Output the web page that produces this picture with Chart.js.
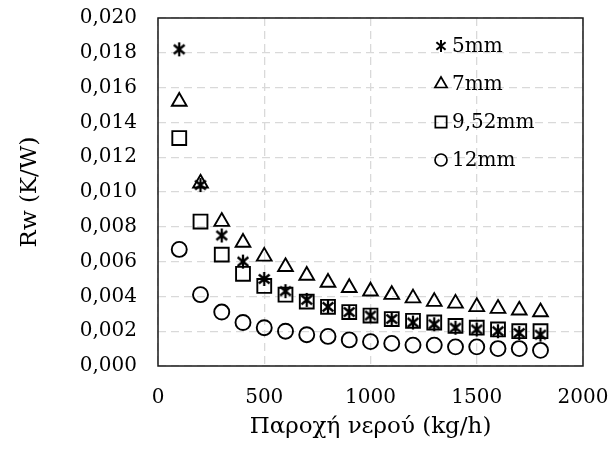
<!DOCTYPE html>
<html>
<head>
<meta charset="utf-8">
<script src="https://cdn.jsdelivr.net/npm/chart.js@4.4.1/dist/chart.umd.min.js"></script>
<style>
  html, body { margin: 0; padding: 0; background: #fff; }
</style>
</head>
<body>
<canvas id="rwChart" width="610" height="450"></canvas>
<script>
// water flow (kg/h) and wall resistance Rw (K/W) per tube diameter
const flows = [100, 200, 300, 400, 500, 600, 700, 800, 900, 1000, 1100, 1200, 1300, 1400, 1500, 1600, 1700, 1800];
const rw5mm = [0.0182, 0.0104, 0.0075, 0.0060, 0.0050, 0.0043, 0.0038, 0.0034, 0.0031, 0.0029, 0.0027, 0.0025, 0.0024, 0.0022, 0.0021, 0.0020, 0.0019, 0.0018];
const rw7mm = [0.0152, 0.0105, 0.0083, 0.0071, 0.0063, 0.0057, 0.0052, 0.0048, 0.0045, 0.0043, 0.0041, 0.0039, 0.0037, 0.0036, 0.0034, 0.0033, 0.0032, 0.0031];
const rw952mm = [0.0131, 0.0083, 0.0064, 0.0053, 0.0046, 0.0041, 0.0037, 0.0034, 0.0031, 0.0029, 0.0027, 0.0026, 0.0025, 0.0023, 0.0022, 0.0021, 0.0020, 0.0020];
const rw12mm = [0.0067, 0.0041, 0.0031, 0.0025, 0.0022, 0.0020, 0.0018, 0.0017, 0.0015, 0.0014, 0.0013, 0.0012, 0.0012, 0.0011, 0.0011, 0.0010, 0.0010, 0.0009];
const seriesLabels = ['5mm', '7mm', '9,52mm', '12mm'];

const FONT = { family: '"DejaVu Serif", serif', size: 20 };
const TITLE_FONT = { family: '"DejaVu Serif", serif', size: 23 };

// excel-like asterisk: vertical bar plus an X
function asterisk(size, lw) {
  const c = document.createElement('canvas');
  c.width = size;
  c.height = size;
  const g = c.getContext('2d');
  const m = size / 2, r = size / 2 - 1;
  const dx = r * Math.sin(Math.PI / 3.6), dy = r * Math.cos(Math.PI / 3.6);
  g.strokeStyle = '#000';
  g.lineWidth = lw;
  g.beginPath();
  g.moveTo(m, m - r); g.lineTo(m, m + r);
  g.moveTo(m - dx, m - dy); g.lineTo(m + dx, m + dy);
  g.moveTo(m + dx, m - dy); g.lineTo(m - dx, m + dy);
  g.stroke();
  return c;
}

const starBig = asterisk(16, 2.3);
const starSmall = asterisk(14, 2);

function series(label, data, style, radius, legendRadius) {
  return {
    label: label,
    data: flows.map((f, i) => ({ x: f, y: data[i] })),
    showLine: false,
    pointStyle: style,
    pointRadius: radius,
    pointBorderWidth: 1.9,
    borderColor: '#000',
    backgroundColor: 'rgba(0,0,0,0)',
    legendRadius: legendRadius,
  };
}

// black frame round the plot area
const frame = {
  id: 'frame',
  beforeDatasetsDraw(chart) {
    const a = chart.chartArea;
    const ctx = chart.ctx;
    ctx.save();
    ctx.strokeStyle = '#1a1a1a';
    ctx.lineWidth = 1.5;
    ctx.strokeRect(a.left, a.top, a.right - a.left, a.bottom - a.top);
    ctx.restore();
  },
};

// legend drawn inside the top right corner of the plot
const insideLegend = {
  id: 'insideLegend',
  afterDatasetsDraw(chart) {
    const a = chart.chartArea;
    const ctx = chart.ctx;
    const x = a.right - 142;
    ctx.save();
    ctx.font = FONT.size + 'px ' + FONT.family;
    ctx.textBaseline = 'middle';
    chart.data.datasets.forEach((ds, i) => {
      const y = a.top + 28 + i * 38;
      const style = ds.pointStyle === starBig ? starSmall : ds.pointStyle;
      ctx.strokeStyle = '#000';
      ctx.fillStyle = 'rgba(0,0,0,0)';
      ctx.lineWidth = 1.7;
      Chart.helpers.drawPoint(ctx, { pointStyle: style, radius: ds.legendRadius, borderWidth: 1.7, rotation: 0 }, x, y);
      ctx.fillStyle = '#000';
      ctx.fillText(ds.label, x + 11, y + 1);
    });
    ctx.restore();
  },
};

// keep the tick labels from pushing the plot area inwards
function noEdgePadding(scale) {
  scale.paddingTop = 0;
  scale.paddingBottom = 0;
  scale.paddingLeft = 0;
  scale.paddingRight = 0;
}

new Chart(document.getElementById('rwChart'), {
  type: 'scatter',
  data: {
    datasets: [
      series(seriesLabels[0], rw5mm, starBig, 8, 7),
      series(seriesLabels[1], rw7mm, 'triangle', 8.5, 7),
      series(seriesLabels[2], rw952mm, 'rect', 9.8, 8),
      series(seriesLabels[3], rw12mm, 'circle', 7.5, 6),
    ],
  },
  options: {
    responsive: false,
    animation: false,
    layout: { padding: { top: 18, right: 27, left: 12, bottom: 0 } },
    plugins: {
      legend: { display: false },
      tooltip: { enabled: false },
    },
    scales: {
      x: {
        type: 'linear',
        min: 0,
        max: 2000,
        ticks: { stepSize: 500, color: '#000', font: FONT, padding: 20, maxRotation: 0, callback: v => String(v) },
        grid: { color: '#d9d9d9', lineWidth: 1.3, drawTicks: false },
        border: { display: false, dash: [8, 5] },
        title: { display: true, text: 'Παροχή νερού (kg/h)', color: '#000', font: TITLE_FONT, padding: { top: 0, bottom: 9 } },
        afterFit(scale) { scale.height = 84; noEdgePadding(scale); },
      },
      y: {
        min: 0,
        max: 0.02,
        ticks: {
          stepSize: 0.002,
          color: '#000',
          font: FONT,
          padding: 21,
          callback: v => v.toFixed(3).replace('.', ','),
        },
        grid: { color: '#d9d9d9', lineWidth: 1.3, drawTicks: false },
        border: { display: false, dash: [8, 5] },
        title: { display: true, text: 'Rw (K/W)', color: '#000', font: TITLE_FONT, padding: { bottom: 14 } },
        afterFit(scale) { scale.width = 146; noEdgePadding(scale); },
      },
    },
  },
  plugins: [frame, insideLegend],
});
</script>
</body>
</html>
